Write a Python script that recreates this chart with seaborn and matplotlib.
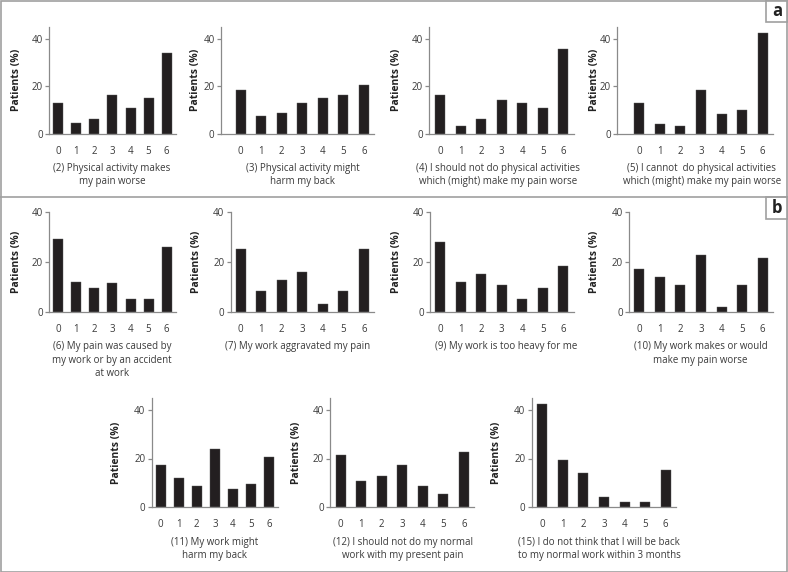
import numpy as np
import matplotlib
matplotlib.use("Agg")
import matplotlib.pyplot as plt
import seaborn as sns
from matplotlib.patches import Rectangle
from matplotlib.lines import Line2D

# ---------------- data ----------------
scores = ["0", "1", "2", "3", "4", "5", "6"]

q2 = [12.8, 4.3, 6.3, 16.1, 10.7, 15.0, 33.9]
q3 = [18.3, 7.6, 8.6, 12.9, 15.1, 16.1, 20.6]
q4 = [16.1, 3.1, 6.2, 14.1, 12.8, 10.8, 35.7]
q5 = [13.0, 4.1, 3.1, 18.3, 8.4, 9.8, 42.2]
q6 = [29.2, 12.0, 9.6, 11.9, 5.3, 5.3, 26.0]
q7 = [25.2, 8.7, 13.1, 16.3, 3.3, 8.7, 25.2]
q9 = [28.3, 12.1, 15.3, 10.9, 5.5, 9.9, 18.4]
q10 = [17.3, 14.1, 10.9, 22.8, 2.0, 10.8, 21.6]
q11 = [17.4, 12.1, 8.6, 23.8, 7.5, 9.5, 20.7]
q12 = [21.6, 10.8, 13.0, 17.2, 8.6, 5.4, 22.7]
q15 = [42.2, 19.5, 13.9, 4.1, 2.2, 2.2, 15.1]

cap2 = "(2) Physical activity makes\nmy pain worse"
cap3 = "(3) Physical activity might\nharm my back"
cap4 = "(4) I should not do physical activities\nwhich (might) make my pain worse"
cap5 = "(5) I cannot  do physical activities\nwhich (might) make my pain worse"
cap6 = "(6) My pain was caused by\nmy work or by an accident\nat work"
cap7 = "(7) My work aggravated my pain"
cap9 = "(9) My work is too heavy for me"
cap10 = "(10) My work makes or would\nmake my pain worse"
cap11 = "(11) My work might\nharm my back"
cap12 = "(12) I should not do my normal\nwork with my present pain"
cap15 = "(15) I do not think that I will be back\nto my normal work within 3 months"

y_label = "Patients (%)"
y_ticks = [0, 20, 40]
panel_labels = ["a", "b"]

# ---------------- style ----------------
sns.set_style("white")
plt.rcParams["font.family"] = ["Open Sans", "DejaVu Sans"]

W, H = 788, 572
fig = plt.figure(figsize=(W / 100, H / 100), dpi=100)

BAR = "#231f20"
TXT = "#3a3a3a"
AXC = "#8a8a8a"
BORDER = "#a0a0a0"

rows = {1: (133.7, 26.7, 45), 2: (312.3, 212.3, 40), 3: (507.3, 397.5, 45)}
cap_y = {1: 162.5, 2: 341.5, 3: 537.0}


def chart(vals, caption, row, c0, s, xl, ylab_x, cap_x):
    y0, ytop, ymax = rows[row]
    left = c0 + xl * s
    right = c0 + 6.5 * s
    ax = fig.add_axes([left / W, 1 - y0 / H, (right - left) / W, (y0 - ytop) / H])
    sns.barplot(x=scores, y=vals, ax=ax, color=BAR, saturation=1,
                width=10.0 / s, edgecolor="#5a5a5a", linewidth=0.3)
    ax.set_xlim(xl, 6.5)
    ax.set_ylim(0, ymax)
    for sp in ["top", "right"]:
        ax.spines[sp].set_visible(False)
    for sp in ["left", "bottom"]:
        ax.spines[sp].set_color(AXC)
        ax.spines[sp].set_linewidth(0.9)
    ax.set_yticks(y_ticks)
    ax.set_yticklabels([str(t) for t in y_ticks])
    ax.set_xticks(range(7))
    ax.set_xticklabels(scores)
    ax.set_xticks(np.arange(0.5, 7.0, 1.0), minor=True)
    ax.tick_params(axis="x", which="major", length=0, pad=8.5,
                   labelsize=7, labelcolor=TXT)
    ax.tick_params(axis="x", which="minor", length=3.5, width=0.9,
                   color=AXC, direction="out")
    ax.tick_params(axis="y", which="major", length=3, width=0.9, color=AXC,
                   direction="out", pad=1.5, labelsize=7, labelcolor=TXT, left=True)
    ax.set_xlabel("")
    ax.set_ylabel(y_label, fontsize=7.5, fontweight="bold", color="#222222",
                  va="center", ha="center")
    ax.yaxis.set_label_coords(ylab_x / W, 1 - (y0 + ytop) / 2 / H,
                              transform=fig.transFigure)
    ax.grid(False)
    fig.text(cap_x / W, 1 - cap_y[row] / H, caption, ha="center", va="top",
             fontsize=7, color=TXT, linespacing=1.3, multialignment="center")
    return ax


chart(q2, cap2, 1, 58.3, 18.06, -0.5, 17, 112)
chart(q3, cap3, 1, 240.7, 20.55, -0.97, 195.5, 303)
chart(q4, cap4, 1, 440.0, 20.55, -0.52, 397, 498)
chart(q5, cap5, 1, 639.3, 20.55, -1.07, 595, 701.7)

chart(q6, cap6, 2, 58.3, 18.06, -0.5, 17, 112)
chart(q7, cap7, 2, 240.7, 20.55, -0.49, 196, 297.7)
chart(q9, cap9, 2, 440.0, 20.55, -0.49, 397, 505.7)
chart(q10, cap10, 2, 639.3, 20.55, -0.49, 595, 700.7)

chart(q11, cap11, 3, 160.7, 18.05, -0.5, 116, 215)
chart(q12, cap12, 3, 340.7, 20.55, -0.52, 296, 402.5)
chart(q15, cap15, 3, 542.3, 20.55, -0.52, 497, 599)

# ---------------- panel frames ----------------
fig.add_artist(Rectangle((0.5 / W, 0.5 / H), (W - 1.5) / W, (H - 1.5) / H,
                         transform=fig.transFigure, fill=False,
                         ec=BORDER, lw=1.2))
fig.add_artist(Line2D([0, 1], [1 - 197 / H, 1 - 197 / H],
                      transform=fig.transFigure, color=BORDER, lw=1.2))

for lab, ytop in zip(panel_labels, [0, 197]):
    fig.add_artist(Rectangle((766 / W, 1 - (ytop + 22) / H), 22 / W, 22 / H,
                             transform=fig.transFigure, fill=False,
                             ec=BORDER, lw=1.2))
    fig.text(777 / W, 1 - (ytop + 11) / H, lab, ha="center", va="center",
             fontsize=12, fontweight="bold", color="#222222")

fig.savefig("out.png", dpi=100)
